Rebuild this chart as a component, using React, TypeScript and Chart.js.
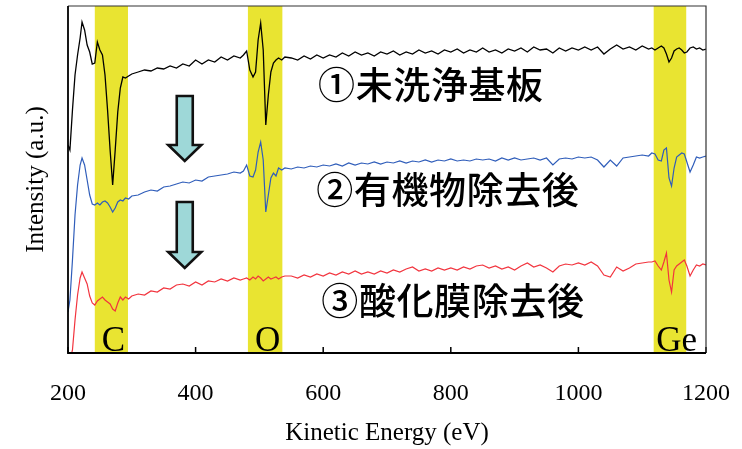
import { useEffect, useRef } from "react";
import { Chart, registerables } from "chart.js";

Chart.register(...registerables);

// Kinetic energy (eV)
const energies = [
  200, 203, 207, 211, 215, 219, 222, 226, 230, 234, 238, 242, 246, 250, 254, 258, 262, 266, 270, 274, 278, 282, 286, 290, 295, 300,
  310, 320, 330, 340, 350, 360, 370, 380, 390, 400, 410, 420, 430, 440, 450, 460, 470,
  475, 480, 485, 490, 494, 498, 502, 506, 510, 514, 518, 522, 526, 530, 535, 540,
  550, 560, 570, 580, 590, 600, 610, 620, 630, 640,
  650, 660, 670, 680, 690, 700, 710, 720, 730, 740,
  750, 760, 770, 780, 790, 800, 810, 820, 830, 840,
  850, 860, 870, 880, 890, 900, 910, 920, 930, 940,
  950, 960, 970, 980, 990, 1000, 1010, 1020, 1030, 1040,
  1050, 1060, 1070, 1080, 1090, 1100, 1110,
  1115, 1120, 1125, 1130, 1134, 1138, 1142, 1146, 1150, 1154, 1158, 1162, 1166, 1170, 1175, 1180, 1185, 1190, 1195, 1200,
];

// ① untreated substrate (black)
const untreated = [
  208, 203, 243, 278, 298, 315, 331, 323, 308, 301, 289, 290, 311, 303, 298, 278, 243, 203, 168, 203, 241, 265, 276, 275, 277, 279,
  281, 283, 282, 285, 284, 287, 285, 289, 287, 293, 289, 293, 291, 296, 293, 297, 295,
  298, 302, 283, 276, 281, 313, 330, 303, 228, 258, 281, 290, 293, 295, 293, 296,
  295, 293, 297, 294, 298, 295, 298, 296, 300, 297,
  301, 298, 300, 297, 301, 299, 302, 298, 301, 299,
  303, 300, 302, 299, 303, 301, 304, 300, 303, 301,
  305, 301, 303, 300, 304, 302, 305, 301, 306, 303,
  304, 300, 305, 302, 305, 303, 306, 303, 306, 299,
  304, 308, 304, 306, 303, 307, 304,
  305, 303, 305, 307, 305, 299, 291, 295, 302, 304, 305, 303, 300, 301, 305, 306, 304, 305, 303, 304,
];

// ② after organic removal (blue)
const organicRemoved = [
  41, 53, 93, 138, 168, 188, 195, 188, 173, 158, 149, 148, 150, 148, 151, 152, 150, 146, 141, 145, 151, 153, 152, 155, 154, 157,
  158, 161, 163, 162, 166, 167, 169, 171, 170, 173, 172, 176, 177, 178, 179, 181, 180,
  182, 188, 177, 176, 183, 201, 211, 193, 141, 158, 175, 180, 177, 185, 183, 185,
  184, 186, 185, 187, 186, 188, 187, 189, 187, 190,
  188, 190, 189, 191, 189, 191, 190, 192, 190, 192,
  191, 193, 191, 193, 192, 194, 192, 193, 192, 194,
  193, 194, 192, 195, 193, 195, 193, 194, 195, 193,
  195, 188, 194, 195, 194, 196, 195, 196, 193, 186,
  193, 187, 195, 196, 197, 198, 197,
  200, 199, 193, 192, 203, 205, 175, 167, 185, 196, 198, 200, 199, 191, 181, 188, 196, 195, 196, 197,
];

// ③ after oxide removal (red)
const oxideRemoved = [
  -22, -7, 3, 33, 58, 75, 81, 75, 69, 57, 50, 48, 52, 54, 56, 53, 51, 49, 44, 42, 50, 56, 53, 56, 54, 57,
  59, 58, 62, 61, 65, 64, 68, 69, 67, 71, 68, 72, 71, 74, 72, 75, 73,
  74, 75, 73, 76, 74, 77, 75, 72, 74, 76, 74, 75, 76, 74, 76, 77,
  77, 75, 78, 76, 79, 77, 80, 78, 81, 79,
  82, 79, 81, 79, 82, 80, 83, 81, 84, 86,
  82, 84, 82, 85, 83, 85, 83, 86, 84, 87,
  88, 85, 87, 84, 86, 83, 87, 90, 86, 88,
  85, 81, 87, 89, 88, 90, 88, 91, 87, 78,
  76, 86, 82, 85, 89, 90, 91,
  91, 92, 87, 83, 91, 100, 73, 61, 83, 87, 89, 91, 93, 87, 77, 83, 88, 87, 89, 88,
];

const xTickValues = [200, 400, 600, 800, 1000, 1200];

// Element bands (eV)
const bandNames = ["C", "O", "Ge"];
const bandStart = [242, 482, 1118];
const bandEnd = [294, 536, 1169];
const bandLabelEnergy = [271, 513, 1154];

const seriesNames = ["①未洗浄基板", "②有機物除去後", "③酸化膜除去後"];

// annotation placement (data coordinates)
const annotationLayout = {
  seriesLabelEnergy: [592, 589, 597],
  seriesLabelIntensity: [268, 163, 52],
  bandLabelIntensity: 2,
  arrows: [
    { energy: 383, top: 257, neck: 208, tip: 192 },
    { energy: 383, top: 151, neck: 101, tip: 85 },
  ],
};

const SERIF = '"Liberation Serif", "Times New Roman", serif';
const CJK = '"Noto Sans CJK JP", "Noto Sans CJK SC", sans-serif';

const decorPlugin = {
  id: "decor",
  beforeDatasetsDraw(chart: any) {
    const { ctx, chartArea: a, scales } = chart;
    const x = scales.x;
    ctx.save();
    ctx.fillStyle = "#E9E431";
    bandStart.forEach((s, i) => {
      const x0 = x.getPixelForValue(s);
      const x1 = x.getPixelForValue(bandEnd[i]);
      ctx.fillRect(x0, a.top, x1 - x0, a.bottom - a.top);
    });
    ctx.restore();
  },
  afterDatasetsDraw(chart: any) {
    const { ctx, scales } = chart;
    const x = scales.x;
    const y = scales.y;
    ctx.save();
    // arrows
    annotationLayout.arrows.forEach((ar) => {
      const cx = x.getPixelForValue(ar.energy);
      const top = y.getPixelForValue(ar.top);
      const neck = y.getPixelForValue(ar.neck);
      const tip = y.getPixelForValue(ar.tip);
      const sw = 8;
      const hw = 16.5;
      ctx.beginPath();
      ctx.moveTo(cx - sw, top);
      ctx.lineTo(cx + sw, top);
      ctx.lineTo(cx + sw, neck);
      ctx.lineTo(cx + hw, neck);
      ctx.lineTo(cx, tip);
      ctx.lineTo(cx - hw, neck);
      ctx.lineTo(cx - sw, neck);
      ctx.closePath();
      ctx.fillStyle = "#9ED8D8";
      ctx.fill();
      ctx.lineWidth = 2.6;
      ctx.lineJoin = "miter";
      ctx.strokeStyle = "#111111";
      ctx.stroke();
    });
    // series labels
    ctx.fillStyle = "#000000";
    ctx.font = `500 37px ${CJK}`;
    try {
      (ctx as any).letterSpacing = "0.6px";
    } catch (e) {
      /* ignore */
    }
    ctx.textAlign = "left";
    ctx.textBaseline = "middle";
    seriesNames.forEach((n, i) => {
      ctx.fillText(
        n,
        x.getPixelForValue(annotationLayout.seriesLabelEnergy[i]),
        y.getPixelForValue(annotationLayout.seriesLabelIntensity[i])
      );
    });
    try {
      (ctx as any).letterSpacing = "0px";
    } catch (e) {
      /* ignore */
    }
    // element labels
    ctx.font = `35px ${SERIF}`;
    ctx.textAlign = "center";
    ctx.textBaseline = "alphabetic";
    bandNames.forEach((n, i) => {
      ctx.fillText(
        n,
        x.getPixelForValue(bandLabelEnergy[i]),
        y.getPixelForValue(annotationLayout.bandLabelIntensity)
      );
    });
    ctx.restore();
  },
  afterDraw(chart: any) {
    const { ctx, chartArea: a, scales } = chart;
    const x = scales.x;
    ctx.save();
    // inner ticks
    ctx.strokeStyle = "#000000";
    ctx.lineWidth = 1.5;
    xTickValues.forEach((v) => {
      const px = x.getPixelForValue(v);
      ctx.beginPath();
      ctx.moveTo(px, a.bottom);
      ctx.lineTo(px, a.bottom - 6);
      ctx.stroke();
    });
    // frame
    ctx.strokeStyle = "#333333";
    ctx.lineWidth = 1.2;
    ctx.beginPath();
    ctx.moveTo(a.left, a.top);
    ctx.lineTo(a.right, a.top);
    ctx.lineTo(a.right, a.bottom);
    ctx.stroke();
    ctx.strokeStyle = "#000000";
    ctx.lineWidth = 1.8;
    ctx.beginPath();
    ctx.moveTo(a.left, a.top);
    ctx.lineTo(a.left, a.bottom);
    ctx.lineTo(a.right, a.bottom);
    ctx.stroke();
    ctx.restore();
  },
};

function toPoints(vals: number[]) {
  return energies.map((e, i) => ({ x: e, y: vals[i] }));
}

export default function App() {
  const ref = useRef<HTMLCanvasElement | null>(null);
  useEffect(() => {
    if (!ref.current) return;
    const chart = new Chart(ref.current, {
      type: "line",
      data: {
        datasets: [
          { label: seriesNames[0], data: toPoints(untreated), borderColor: "#000000", borderWidth: 1.3, pointRadius: 0, tension: 0 },
          { label: seriesNames[1], data: toPoints(organicRemoved), borderColor: "#2F5DBA", borderWidth: 1.2, pointRadius: 0, tension: 0 },
          { label: seriesNames[2], data: toPoints(oxideRemoved), borderColor: "#F2343E", borderWidth: 1.2, pointRadius: 0, tension: 0 },
        ],
      },
      options: {
        animation: false,
        responsive: false,
        layout: { padding: { left: 0, right: 36, top: 6, bottom: 0 } },
        plugins: { legend: { display: false }, tooltip: { enabled: false } },
        scales: {
          x: {
            type: "linear",
            min: 200,
            max: 1200,
            afterBuildTicks: (s: any) => {
              s.ticks = xTickValues.map((v) => ({ value: v }));
            },
            afterFit: (s: any) => {
              s.height = 96;
              s.paddingLeft = 0;
              s.paddingRight = 0;
            },
            grid: { display: false, drawTicks: false },
            border: { display: false },
            ticks: {
              color: "#000000",
              padding: 26,
              maxRotation: 0,
              font: { family: SERIF, size: 24 },
              callback: (v: any) => String(v),
            },
            title: {
              display: true,
              text: "Kinetic Energy (eV)",
              color: "#000000",
              font: { family: SERIF, size: 25 },
              padding: { top: 0, bottom: 1 },
            },
          },
          y: {
            min: 0,
            max: 347,
            afterFit: (s: any) => {
              s.width = 68;
              s.paddingTop = 0;
              s.paddingBottom = 0;
            },
            grid: { display: false, drawTicks: false },
            border: { display: false },
            ticks: { display: false },
            title: {
              display: true,
              text: "Intensity (a.u.)",
              color: "#000000",
              font: { family: SERIF, size: 25 },
              padding: { top: 21, bottom: 0 },
            },
          },
        },
      },
      plugins: [decorPlugin],
    });
    return () => chart.destroy();
  }, []);
  return (
    <div style={{ position: "absolute", left: 0, top: 0, width: 742, height: 449, background: "#ffffff" }}>
      <canvas ref={ref} width={742} height={449} />
    </div>
  );
}
